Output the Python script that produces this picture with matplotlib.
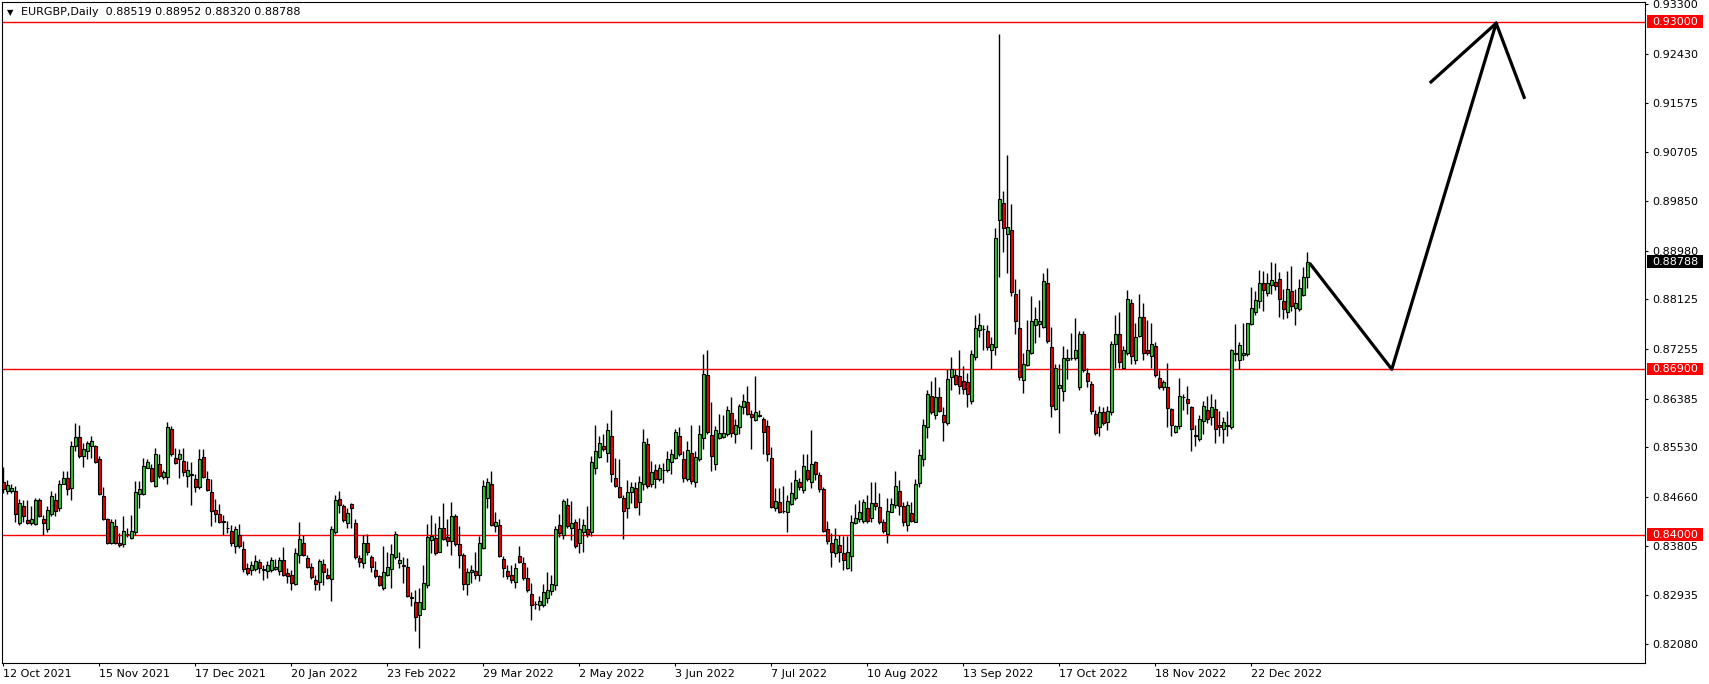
import numpy as np
import matplotlib
matplotlib.use('Agg')
import matplotlib.pyplot as plt
from matplotlib.patches import Rectangle

# EURGBP daily candles, 12 Oct 2021 -> mid Jan 2023
opens = [
    .8492, .8477, .8477, .8477, .8420, .8450, .8425, .8420, .8419, .8460,
    .8427, .8410, .8437, .8461, .8446, .8488, .8499, .8482, .8555, .8571,
    .8538, .8546, .8555, .8555, .8532, .8467, .8428, .8386, .8415, .8386,
    .8384, .8401, .8394, .8404, .8471, .8471, .8517, .8516, .8486, .8523,
    .8501, .8501, .8586, .8534, .8533, .8529, .8503, .8505, .8497, .8483,
    .8536, .8497, .8475, .8444, .8437, .8424, .8412, .8407, .8380, .8400,
    .8375, .8342, .8338, .8340, .8352, .8339, .8337, .8338, .8340, .8336,
    .8355, .8332, .8329, .8313, .8365, .8386, .8359, .8344, .8321, .8317,
    .8348, .8330, .8323, .8404, .8463, .8450, .8421, .8454, .8421, .8359,
    .8350, .8386, .8361, .8338, .8327, .8307, .8330, .8339, .8361, .8350,
    .8346, .8343, .8290, .8282, .8259, .8270, .8311, .8390, .8394, .8370,
    .8411, .8396, .8388, .8432, .8384, .8365, .8313, .8334, .8336, .8329,
    .8376, .8465, .8489, .8415, .8417, .8357, .8336, .8330, .8317, .8363,
    .8350, .8324, .8296, .8279, .8277, .8277, .8288, .8301, .8311, .8417,
    .8400, .8452, .8411, .8423, .8385, .8405, .8409, .8404, .8517, .8536,
    .8555, .8544, .8573, .8500, .8484, .8465, .8446, .8475, .8482, .8457,
    .8488, .8559, .8488, .8513, .8497, .8513, .8513, .8527, .8534, .8573,
    .8532, .8498, .8544, .8492, .8532, .8570, .8680, .8574, .8524, .8569,
    .8571, .8576, .8613, .8576, .8588, .8623, .8632, .8611, .8601, .8609,
    .8603, .8590, .8534, .8447, .8457, .8442, .8439, .8453, .8465, .8493,
    .8479, .8513, .8492, .8527, .8505, .8480, .8409, .8386, .8367, .8382,
    .8367, .8342, .8363, .8421, .8427, .8424, .8447, .8429, .8456, .8448,
    .8423, .8401, .8440, .8452, .8477, .8450, .8417, .8438, .8423, .8490,
    .8533, .8588, .8644, .8609, .8642, .8609, .8596, .8676, .8680, .8679,
    .8669, .8667, .8634, .8711, .8759, .8761, .8757, .8723, .8729, .8952,
    .8982, .8928, .8935, .8822, .8763, .8672, .8698, .8719, .8767, .8770,
    .8765, .8842, .8729, .8621, .8657, .8652, .8706, .8709, .8709, .8659,
    .8752, .8683, .8665, .8611, .8588, .8615, .8598, .8615, .8734, .8752,
    .8693, .8719, .8807, .8706, .8749, .8782, .8723, .8713, .8730, .8675,
    .8659, .8659, .8621, .8580, .8590, .8642, .8638, .8624, .8574, .8567,
    .8599, .8619, .8606, .8621, .8593, .8586, .8590, .8588, .8716, .8706,
    .8715, .8716, .8770, .8790, .8809, .8842, .8824, .8838, .8843, .8849,
    .8809, .8790, .8828, .8798, .8796, .8821, .88519,
]
highs = [
    .8519, .8496, .8488, .8486, .8463, .8461, .8461, .8450, .8465, .8465,
    .8435, .8450, .8477, .8473, .8496, .8511, .8511, .8565, .8596, .8592,
    .8561, .8565, .8573, .8557, .8538, .8484, .8430, .8427, .8427, .8403,
    .8432, .8411, .8434, .8494, .8494, .8534, .8533, .8523, .8552, .8541,
    .8513, .8598, .8590, .8552, .8550, .8552, .8530, .8528, .8507, .8550,
    .8550, .8511, .8498, .8463, .8454, .8434, .8424, .8416, .8415, .8419,
    .8388, .8350, .8353, .8365, .8357, .8346, .8353, .8361, .8357, .8361,
    .8378, .8342, .8338, .8376, .8423, .8400, .8365, .8350, .8330, .8357,
    .8357, .8342, .8415, .8469, .8477, .8454, .8447, .8456, .8427, .8365,
    .8400, .8401, .8365, .8353, .8329, .8380, .8369, .8384, .8407, .8369,
    .8361, .8359, .8299, .8303, .8307, .8346, .8419, .8434, .8421, .8432,
    .8455, .8427, .8457, .8436, .8415, .8367, .8342, .8347, .8369, .8398,
    .8496, .8499, .8512, .8440, .8428, .8363, .8346, .8347, .8350, .8380,
    .8361, .8344, .8315, .8283, .8292, .8313, .8334, .8329, .8415, .8436,
    .8463, .8465, .8459, .8427, .8430, .8427, .8450, .8538, .8592, .8573,
    .8577, .8596, .8619, .8534, .8532, .8469, .8496, .8493, .8493, .8503,
    .8586, .8569, .8529, .8523, .8523, .8526, .8546, .8550, .8586, .8588,
    .8546, .8565, .8592, .8546, .8592, .8716, .8723, .8633, .8590, .8611,
    .8609, .8626, .8642, .8603, .8629, .8646, .8661, .8619, .8679, .8619,
    .8607, .8601, .8553, .8482, .8482, .8486, .8470, .8493, .8513, .8499,
    .8541, .8541, .8584, .8529, .8509, .8484, .8424, .8403, .8411, .8400,
    .8398, .8398, .8434, .8454, .8461, .8463, .8470, .8493, .8493, .8473,
    .8427, .8465, .8465, .8511, .8496, .8457, .8459, .8457, .8498, .8550,
    .8603, .8653, .8670, .8676, .8659, .8623, .8690, .8711, .8690, .8723,
    .8696, .8684, .8723, .8786, .8788, .8768, .8768, .8746, .8938, .9278,
    .9002, .9066, .8980, .8849, .8830, .8719, .8776, .8819, .8800, .8811,
    .8859, .8867, .8765, .8699, .8699, .8730, .8726, .8753, .8780, .8757,
    .8757, .8693, .8669, .8619, .8626, .8624, .8626, .8739, .8786, .8790,
    .8730, .8829, .8813, .8772, .8822, .8807, .8776, .8772, .8738, .8688,
    .8672, .8701, .8622, .8593, .8675, .8647, .8661, .8626, .8592, .8609,
    .8634, .8644, .8646, .8638, .8616, .8606, .8616, .8726, .8770, .8738,
    .8772, .8772, .8834, .8828, .8865, .8863, .8859, .8878, .8876, .8861,
    .8830, .8862, .8872, .8830, .8849, .8870, .88952,
]
lows = [
    .8473, .8471, .8473, .8423, .8416, .8423, .8419, .8416, .8417, .8431,
    .8400, .8405, .8432, .8433, .8442, .8488, .8469, .8461, .8546, .8534,
    .8519, .8532, .8534, .8525, .8469, .8425, .8384, .8384, .8384, .8379,
    .8379, .8396, .8392, .8400, .8446, .8469, .8516, .8492, .8484, .8500,
    .8498, .8488, .8538, .8523, .8500, .8503, .8484, .8452, .8475, .8480,
    .8500, .8477, .8415, .8423, .8421, .8400, .8403, .8380, .8367, .8376,
    .8334, .8330, .8330, .8336, .8332, .8321, .8324, .8334, .8338, .8330,
    .8327, .8315, .8303, .8311, .8350, .8363, .8342, .8323, .8303, .8303,
    .8311, .8323, .8283, .8401, .8438, .8423, .8411, .8411, .8357, .8344,
    .8342, .8365, .8334, .8324, .8309, .8303, .8327, .8307, .8357, .8342,
    .8315, .8290, .8274, .8231, .8201, .8269, .8307, .8367, .8365, .8369,
    .8390, .8380, .8365, .8380, .8342, .8303, .8294, .8315, .8323, .8319,
    .8375, .8447, .8415, .8405, .8361, .8326, .8323, .8315, .8307, .8350,
    .8321, .8300, .8250, .8269, .8267, .8273, .8280, .8294, .8303, .8396,
    .8392, .8411, .8390, .8376, .8367, .8370, .8396, .8398, .8507, .8534,
    .8547, .8527, .8492, .8484, .8465, .8392, .8430, .8455, .8446, .8434,
    .8478, .8482, .8484, .8482, .8494, .8490, .8509, .8507, .8532, .8538,
    .8492, .8494, .8488, .8484, .8530, .8550, .8576, .8511, .8513, .8567,
    .8569, .8573, .8571, .8561, .8576, .8611, .8609, .8550, .8599, .8607,
    .8542, .8530, .8446, .8442, .8438, .8438, .8404, .8452, .8461, .8478,
    .8473, .8494, .8482, .8496, .8475, .8405, .8384, .8344, .8361, .8352,
    .8338, .8340, .8336, .8419, .8423, .8421, .8421, .8423, .8444, .8419,
    .8403, .8386, .8439, .8447, .8434, .8415, .8406, .8423, .8423, .8484,
    .8521, .8569, .8611, .8603, .8615, .8565, .8592, .8653, .8663, .8647,
    .8646, .8624, .8629, .8706, .8746, .8723, .8723, .8690, .8715, .8852,
    .8896, .8859, .8818, .8752, .8672, .8648, .8696, .8716, .8736, .8746,
    .8763, .8736, .8607, .8619, .8578, .8634, .8673, .8707, .8706, .8653,
    .8686, .8659, .8611, .8575, .8573, .8592, .8584, .8609, .8692, .8692,
    .8690, .8715, .8699, .8699, .8747, .8707, .8715, .8692, .8676, .8655,
    .8653, .8588, .8573, .8578, .8586, .8619, .8611, .8546, .8555, .8565,
    .8576, .8596, .8593, .8561, .8573, .8561, .8573, .8585, .8704, .8690,
    .8707, .8713, .8767, .8786, .8798, .8793, .8819, .8822, .8829, .8782,
    .8778, .8780, .8792, .8767, .8793, .8818, .88320,
]
closes = [
    .8480, .8487, .8482, .8437, .8455, .8433, .8421, .8427, .8461, .8433,
    .8421, .8444, .8467, .8442, .8488, .8500, .8480, .8555, .8571, .8538,
    .8550, .8561, .8564, .8527, .8471, .8427, .8386, .8423, .8386, .8381,
    .8406, .8401, .8406, .8475, .8480, .8521, .8527, .8494, .8542, .8503,
    .8509, .8588, .8541, .8525, .8541, .8510, .8513, .8506, .8484, .8533,
    .8501, .8478, .8442, .8437, .8423, .8422, .8411, .8385, .8410, .8380,
    .8340, .8332, .8346, .8353, .8342, .8338, .8346, .8355, .8344, .8355,
    .8329, .8327, .8315, .8367, .8392, .8365, .8344, .8325, .8313, .8353,
    .8334, .8324, .8410, .8461, .8452, .8425, .8438, .8447, .8361, .8352,
    .8386, .8369, .8343, .8327, .8311, .8334, .8344, .8366, .8401, .8356,
    .8345, .8292, .8289, .8256, .8282, .8316, .8396, .8398, .8367, .8411,
    .8393, .8388, .8432, .8384, .8365, .8313, .8334, .8338, .8330, .8386,
    .8486, .8493, .8417, .8423, .8363, .8342, .8328, .8321, .8342, .8352,
    .8324, .8302, .8277, .8278, .8284, .8300, .8303, .8313, .8409, .8403,
    .8459, .8415, .8421, .8380, .8409, .8417, .8401, .8527, .8546, .8561,
    .8550, .8584, .8507, .8486, .8466, .8442, .8474, .8484, .8448, .8492,
    .8563, .8486, .8509, .8497, .8516, .8514, .8532, .8541, .8580, .8542,
    .8500, .8548, .8494, .8536, .8577, .8682, .8580, .8538, .8584, .8578,
    .8578, .8619, .8578, .8593, .8625, .8634, .8611, .8606, .8615, .8608,
    .8580, .8542, .8448, .8459, .8439, .8441, .8459, .8473, .8496, .8484,
    .8521, .8497, .8523, .8506, .8480, .8407, .8388, .8370, .8392, .8370,
    .8355, .8369, .8423, .8429, .8440, .8457, .8424, .8455, .8450, .8423,
    .8407, .8442, .8453, .8486, .8450, .8423, .8452, .8424, .8488, .8539,
    .8592, .8646, .8615, .8642, .8617, .8598, .8673, .8690, .8665, .8661,
    .8655, .8646, .8717, .8763, .8768, .8760, .8729, .8734, .8921, .8989,
    .8938, .8940, .8826, .8775, .8676, .8699, .8723, .8775, .8778, .8775,
    .8844, .8739, .8626, .8693, .8663, .8709, .8709, .8709, .8724, .8752,
    .8688, .8669, .8616, .8578, .8615, .8596, .8616, .8734, .8752, .8703,
    .8723, .8813, .8713, .8746, .8782, .8719, .8719, .8734, .8680, .8659,
    .8667, .8622, .8593, .8590, .8644, .8642, .8630, .8586, .8573, .8603,
    .8625, .8603, .8624, .8586, .8588, .8598, .8593, .8723, .8719, .8732,
    .8719, .8772, .8798, .8811, .8842, .8829, .8842, .8846, .8836, .8813,
    .8796, .8830, .8801, .8807, .8833, .8852, .88788,
]

date_labels = ['12 Oct 2021', '15 Nov 2021', '17 Dec 2021', '20 Jan 2022',
               '23 Feb 2022', '29 Mar 2022', '2 May 2022', '3 Jun 2022',
               '7 Jul 2022', '10 Aug 2022', '13 Sep 2022', '17 Oct 2022',
               '18 Nov 2022', '22 Dec 2022']
date_bars = list(range(0, 24 * len(date_labels), 24))

price_ticks = [0.93300, 0.92430, 0.91575, 0.90705, 0.89850, 0.88980, 0.88125,
               0.87255, 0.86385, 0.85530, 0.84660, 0.83805, 0.82935, 0.82080]
levels = [0.93000, 0.86900, 0.84000]
last_price = 0.88788

# hand-drawn forecast path (bar index, price)
path_x = [326.8, 347.1, 373.2, 380.2]
path_y = [0.8874, 0.8690, 0.9297, 0.9167]
wing_x = [356.9, 373.2]
wing_y = [0.9194, 0.9297]

W, H = 1709, 684
fig = plt.figure(figsize=(W / 100, H / 100), dpi=100)
ax = fig.add_axes([2 / W, 1 - 663.4 / H, 1643 / W, 661.2 / H])

o = np.array(opens)
h = np.array(highs)
l = np.array(lows)
c = np.array(closes)
x = np.arange(len(o))
up = c >= o

ax.vlines(x, l, h, color='black', lw=1, zorder=2)
bottom = np.minimum(o, c)
height = np.abs(c - o)
ax.bar(x[up], height[up], bottom=bottom[up], width=0.72, color='#33c433',
       edgecolor='black', linewidth=0.8, zorder=3)
ax.bar(x[~up], height[~up], bottom=bottom[~up], width=0.72, color='#e60000',
       edgecolor='black', linewidth=0.8, zorder=3)

for lv in levels:
    ax.axhline(lv, color='red', lw=1, zorder=1)

ax.plot(path_x, path_y, color='black', lw=2.3, zorder=4)
ax.plot(wing_x, wing_y, color='black', lw=2.3, zorder=4)

ax.set_xlim(-0.325, 410.4)
ax.set_ylim(0.81741, 0.93339)

ax.yaxis.tick_right()
ax.set_yticks(price_ticks)
ax.set_yticklabels([f'{p:.5f}' for p in price_ticks])
ax.tick_params(axis='y', length=2.2, width=0.8, pad=2.8, labelsize=8)
ax.set_xticks(date_bars)
ax.set_xticklabels(date_labels)
ax.tick_params(axis='x', length=2.2, width=0.8, pad=1.8, labelsize=8)
for t in ax.get_xticklabels():
    t.set_ha('left')
for s in ax.spines.values():
    s.set_linewidth(0.8)

# price tags on the right scale
tf = ax.get_yaxis_transform()
tags = [(lv, 'red') for lv in levels] + [(last_price, 'black')]
for p, col in tags:
    ax.add_patch(Rectangle((1.001, p - 0.00108), 0.034, 0.00216, transform=tf,
                           facecolor=col, edgecolor='none', clip_on=False, zorder=5))
    ax.text(1.0043, p, f'{p:.5f}', transform=tf, color='white', fontsize=8,
            va='center', ha='left', clip_on=False, zorder=6)

fig.text(7 / W, 1 - 12.3 / H, '\u25BC', fontsize=6, va='center', ha='left')
fig.text(21 / W, 1 - 12.3 / H,
         'EURGBP,Daily  0.88519 0.88952 0.88320 0.88788',
         fontsize=8, va='center', ha='left')

fig.savefig('out.png', dpi=100, facecolor='white')
